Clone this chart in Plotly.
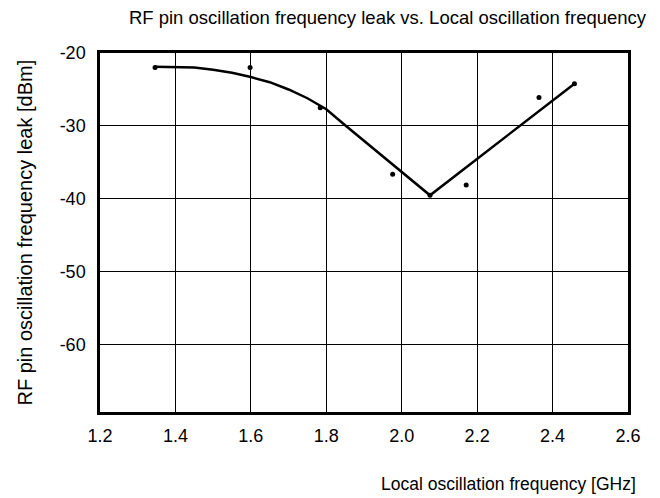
import plotly.graph_objects as go

# measured points
freq_pts = [1.346, 1.598, 1.784, 1.976, 2.075, 2.171, 2.364, 2.458]
leak_pts = [-22.0, -22.0, -27.5, -36.6, -39.5, -38.1, -26.1, -24.2]

# fitted curve
freq_curve = [1.346, 1.40, 1.45, 1.50, 1.55, 1.60, 1.65, 1.70, 1.75, 1.80, 1.85, 2.075, 2.458]
leak_curve = [-21.9, -21.9, -22.0, -22.3, -22.7, -23.3, -24.0, -25.0, -26.2, -27.7, -29.9, -39.5, -24.2]

x_ticks = [1.2, 1.4, 1.6, 1.8, 2.0, 2.2, 2.4, 2.6]
x_labels = ["1.2", "1.4", "1.6", "1.8", "2.0", "2.2", "2.4", "2.6"]
y_ticks = [-20, -30, -40, -50, -60]
y_labels = ["-20", "-30", "-40", "-50", "-60"]

FONT = "Liberation Sans, Arial, Helvetica, sans-serif"

# the page body has an 8px margin, so the figure is sized/placed to compensate
W, H = 652, 490
L, R, T, B = 92, 32, 45, 86
PW, PH = W - L - R, H - T - B

fig = go.Figure()
fig.add_trace(go.Scatter(x=freq_curve, y=leak_curve, mode="lines",
                         line=dict(color="black", width=2.5), hoverinfo="skip"))
fig.add_trace(go.Scatter(x=freq_pts, y=leak_pts, mode="markers",
                         marker=dict(color="black", size=5)))

fig.update_layout(
    width=W, height=H,
    margin=dict(l=L, r=R, t=T, b=B),
    paper_bgcolor="white", plot_bgcolor="white",
    showlegend=False,
    font=dict(family=FONT, color="black", size=18),
    title=dict(text="RF pin oscillation frequency leak vs. Local oscillation frequency",
               x=379.5 / W, xanchor="center", y=1 - 10 / H, yanchor="middle",
               font=dict(size=18.5, family=FONT, color="black")),
)
fig.update_xaxes(range=[1.2, 2.6], tickvals=x_ticks, ticktext=x_labels,
                 showgrid=True, gridcolor="black", gridwidth=1.2,
                 showline=True, linecolor="black", linewidth=2.5, mirror=True,
                 ticks="", zeroline=False, ticklabelstandoff=6, automargin=False,
                 tickfont=dict(size=18))
fig.update_yaxes(range=[-69.2, -20], tickvals=y_ticks, ticktext=y_labels,
                 showgrid=True, gridcolor="black", gridwidth=1.2,
                 showline=True, linecolor="black", linewidth=2.5, mirror=True,
                 ticks="", zeroline=False, ticklabelstandoff=8, automargin=False,
                 tickfont=dict(size=18))
# y-axis title
fig.add_annotation(text="RF pin oscillation frequency leak [dBm]", xref="paper", yref="paper",
                   x=(24 - 100) / PW, y=0.5, xanchor="center", yanchor="middle",
                   textangle=-90, showarrow=False,
                   font=dict(size=20, family=FONT, color="black"))
# x-axis title
fig.add_annotation(text="Local oscillation frequency [GHz]", xref="paper", yref="paper",
                   x=(638 - 100) / PW, y=-(484 - 412) / PH, xanchor="right", yanchor="middle",
                   showarrow=False, font=dict(size=17.5, family=FONT, color="black"))

fig.write_html("out.html")
